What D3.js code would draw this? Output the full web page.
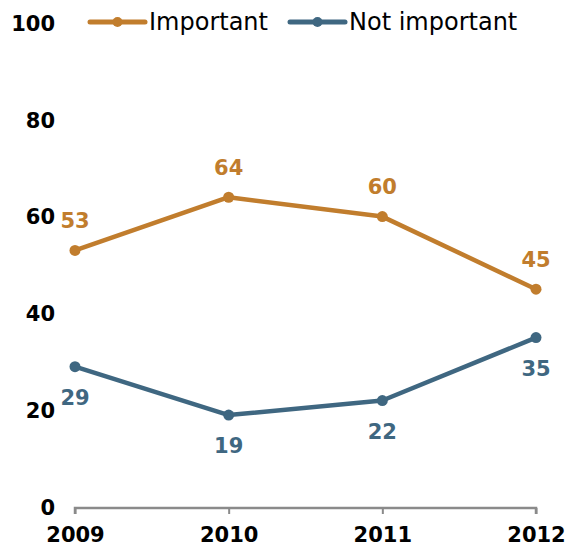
<!DOCTYPE html>
<html>
<head>
<meta charset="utf-8">
<script src="https://cdn.jsdelivr.net/npm/d3@7"></script>
<style>
  html, body { margin: 0; padding: 0; background: #fff; }
  svg { display: block; font-family: "DejaVu Sans", Verdana, sans-serif; }
</style>
</head>
<body>
<svg id="chart" width="571" height="546"></svg>
<script>
const years = ["2009", "2010", "2011", "2012"];
const important = [53, 64, 60, 45];
const notImportant = [29, 19, 22, 35];
const yTicks = [0, 20, 40, 60, 80, 100];
const seriesNames = ["Important", "Not important"];
const seriesColors = ["#C17D2D", "#3F6781"];

const svg = d3.select("#chart");

const x = d3.scalePoint().domain(years).range([75, 536]);
const y = d3.scaleLinear().domain([0, 100]).range([507, 23]);

// x axis: grey baseline with small ticks
const xAxis = svg.append("g")
  .attr("transform", "translate(0,508)")
  .call(d3.axisBottom(x).tickSize(6).tickSizeOuter(0).tickPadding(13));
xAxis.select(".domain").attr("stroke", "#8a8a8a").attr("stroke-width", 2.5)
  .attr("d", `M${x(years[0])},6V0H${x(years[3])}V6`);
xAxis.selectAll(".tick line").attr("stroke", "#8a8a8a").attr("stroke-width", 2);
xAxis.selectAll(".tick text")
  .attr("font-family", "DejaVu Sans, Verdana, sans-serif")
  .attr("font-size", 21).attr("font-weight", "bold").attr("fill", "#000");

// y tick labels only
const yAxis = svg.append("g")
  .attr("transform", "translate(55,0)")
  .call(d3.axisLeft(y).tickValues(yTicks).tickSize(0).tickPadding(0));
yAxis.select(".domain").remove();
yAxis.selectAll(".tick text")
  .attr("font-family", "DejaVu Sans, Verdana, sans-serif")
  .attr("font-size", 21).attr("font-weight", "bold").attr("fill", "#000")
  .attr("dy", "0.35em");

const series = [
  { name: seriesNames[0], values: important, color: seriesColors[0], labelDy: -30 },
  { name: seriesNames[1], values: notImportant, color: seriesColors[1], labelDy: 31 }
];

const line = d3.line().x((d, i) => x(years[i])).y(d => y(d));

series.forEach(s => {
  const g = svg.append("g");
  g.append("path").datum(s.values)
    .attr("d", line)
    .attr("fill", "none")
    .attr("stroke", s.color)
    .attr("stroke-width", 4.5)
    .attr("stroke-linejoin", "round");
  g.selectAll("circle").data(s.values).join("circle")
    .attr("cx", (d, i) => x(years[i]))
    .attr("cy", d => y(d))
    .attr("r", 5.5)
    .attr("fill", s.color);
  g.selectAll("text").data(s.values).join("text")
    .attr("x", (d, i) => x(years[i]))
    .attr("y", d => y(d) + s.labelDy)
    .attr("dy", "0.35em")
    .attr("text-anchor", "middle")
    .attr("font-size", 21)
    .attr("font-weight", "bold")
    .attr("fill", s.color)
    .text(d => d);
});

// legend
const legendX = [90, 290];
series.forEach((s, i) => {
  const g = svg.append("g").attr("transform", `translate(${legendX[i]},22)`);
  g.append("line").attr("x1", 0).attr("x2", 55).attr("y1", 0).attr("y2", 0)
    .attr("stroke", s.color).attr("stroke-width", 5).attr("stroke-linecap", "round");
  g.append("circle").attr("cx", 27.5).attr("cy", 0).attr("r", 5).attr("fill", s.color);
  g.append("text").attr("x", 59).attr("y", 0).attr("dy", "0.35em")
    .attr("font-size", 24).attr("fill", "#000").text(s.name);
});
</script>
</body>
</html>
